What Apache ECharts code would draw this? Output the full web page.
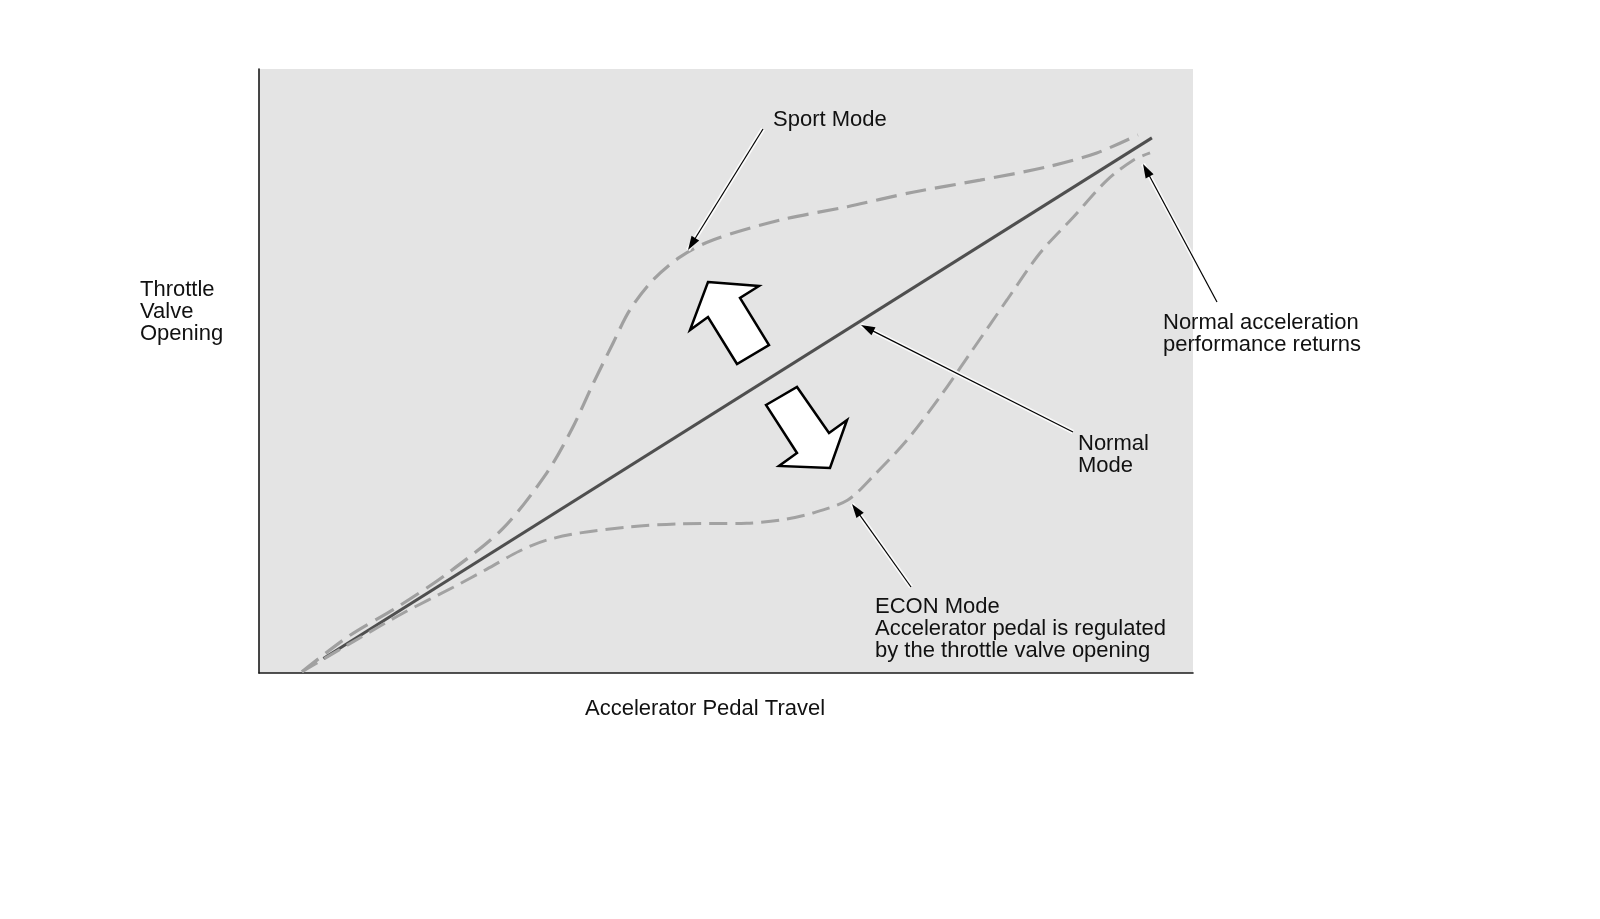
<!DOCTYPE html>
<html>
<head>
<meta charset="utf-8">
<script src="https://cdn.jsdelivr.net/npm/echarts@6/dist/echarts.min.js"></script>
<style>
html,body{margin:0;padding:0;background:#fff;}
#c{width:1600px;height:919px;}
</style>
</head>
<body>
<div id="c"></div>
<script>
// ---- data (x = accelerator pedal travel, y = throttle valve opening; 0..100 scale) ----
const normalMode = [[6.9, 2.4], [95.6, 88.6]];
const sportMode = [
  [4.6, 0.2], [9.7, 6.2], [14.8, 10.9], [20.1, 16.4], [26.1, 23.9], [30.8, 33.1],
  [33.6, 40.7], [35.8, 48.0], [37.9, 54.6], [39.7, 60.1], [42.2, 65.1], [45.1, 68.9],
  [48.6, 71.7], [55.8, 75.0], [63.0, 77.2], [70.0, 79.6], [77.2, 81.6], [84.4, 83.8],
  [89.7, 86.1], [94.1, 89.1]
];
const econMode = [
  [4.6, 0.2], [10.1, 5.2], [15.4, 9.9], [20.8, 14.2], [24.4, 17.2], [27.9, 20.2],
  [30.8, 22.0], [34.4, 23.2], [39.7, 24.2], [45.1, 24.7], [52.2, 24.8], [55.8, 25.3],
  [59.3, 26.5], [63.0, 28.6], [65.7, 32.5], [69.4, 38.6], [72.9, 45.7], [76.4, 53.5],
  [80.1, 61.8], [83.6, 69.5], [87.2, 75.5], [90.8, 81.6], [93.6, 84.9], [95.4, 86.1]
];
const xAxisTitle = 'Accelerator Pedal Travel';
const yAxisTitle = ['Throttle', 'Valve', 'Opening'];
const sportLabel = ['Sport Mode'];
const normalLabel = ['Normal', 'Mode'];
const returnLabel = ['Normal acceleration', 'performance returns'];
const econLabel = ['ECON Mode', 'Accelerator pedal is regulated', 'by the throttle valve opening'];

// ---- rendering ----
const FONT = '"Liberation Sans", Arial, Helvetica, sans-serif';
const chart = echarts.init(document.getElementById('c'), null, {renderer: 'canvas'});

function textBlock(lines, x, firstCenterY) {
  const lh = 22.3;
  return {
    type: 'text', z: 200,
    x: x, y: firstCenterY - lh / 2 + 1.5,
    style: {
      text: lines.join('\n'), fill: '#111', font: '22px ' + FONT,
      lineHeight: lh, verticalAlign: 'top', align: 'left'
    }
  };
}
function leader(x1, y1, x2, y2) {
  const dx = x2 - x1, dy = y2 - y1, len = Math.sqrt(dx * dx + dy * dy);
  const ux = dx / len, uy = dy / len, L = 14, w = 4.5;
  const bx = x2 - ux * L, by = y2 - uy * L;
  return [
    {type: 'line', z: 190, shape: {x1: x1, y1: y1, x2: x2, y2: y2},
     style: {stroke: 'rgba(255,255,255,0.85)', lineWidth: 4.5}},
    {type: 'line', z: 191, shape: {x1: x1, y1: y1, x2: bx + ux * 2, y2: by + uy * 2},
     style: {stroke: '#000', lineWidth: 1.2}},
    {type: 'polygon', z: 192,
     shape: {points: [[x2, y2], [bx - uy * w, by + ux * w], [bx + uy * w, by - ux * w]]},
     style: {fill: '#000', stroke: null}}
  ];
}
function bigArrow(points) {
  return {type: 'polygon', z: 180, shape: {points: points},
          style: {fill: '#fff', stroke: '#000', lineWidth: 2.5, lineJoin: 'miter'}};
}

const graphics = [].concat(
  [textBlock(sportLabel, 773, 118)],
  [textBlock(yAxisTitle, 140, 288)],
  [textBlock([xAxisTitle], 585, 707)],
  [textBlock(normalLabel, 1078, 442)],
  [textBlock(returnLabel, 1163, 321)],
  [textBlock(econLabel, 875, 605)],
  leader(763, 129, 688, 250),
  leader(1073, 432, 861, 325),
  leader(1217, 302, 1143, 164),
  leader(911, 587, 852, 504),
  [bigArrow([[708, 282], [759, 286], [740, 298], [769, 345], [737, 364], [708, 317], [690, 330]])],
  [bigArrow([[766, 405], [797, 387], [829, 433], [847, 420], [830, 468], [779, 466], [797, 453]])]
);

const axisCommon = {
  type: 'value', min: 0, max: 100,
  axisLine: {show: true, onZero: false, lineStyle: {color: '#1a1a1a', width: 1.6}},
  axisTick: {show: false}, axisLabel: {show: false}, splitLine: {show: false}
};

chart.setOption({
  animation: false,
  backgroundColor: '#ffffff',
  grid: {left: 259, top: 69, width: 934, height: 604, show: true,
         backgroundColor: '#e4e4e4', borderWidth: 0, containLabel: false},
  xAxis: axisCommon,
  yAxis: axisCommon,
  series: [
    {name: 'Normal Mode', type: 'line', data: normalMode, showSymbol: false, z: 2,
     lineStyle: {color: '#4f4f4f', width: 3}},
    {name: 'ECON Mode', type: 'line', data: econMode, showSymbol: false, smooth: 0.3, z: 3,
     lineStyle: {color: '#a2a2a2', width: 3, type: [18, 8]}},
    {name: 'Sport Mode', type: 'line', data: sportMode, showSymbol: false, smooth: 0.3, z: 3,
     lineStyle: {color: '#a0a0a0', width: 3.2, type: [21, 9]}}
  ],
  graphic: graphics
});
</script>
</body>
</html>
